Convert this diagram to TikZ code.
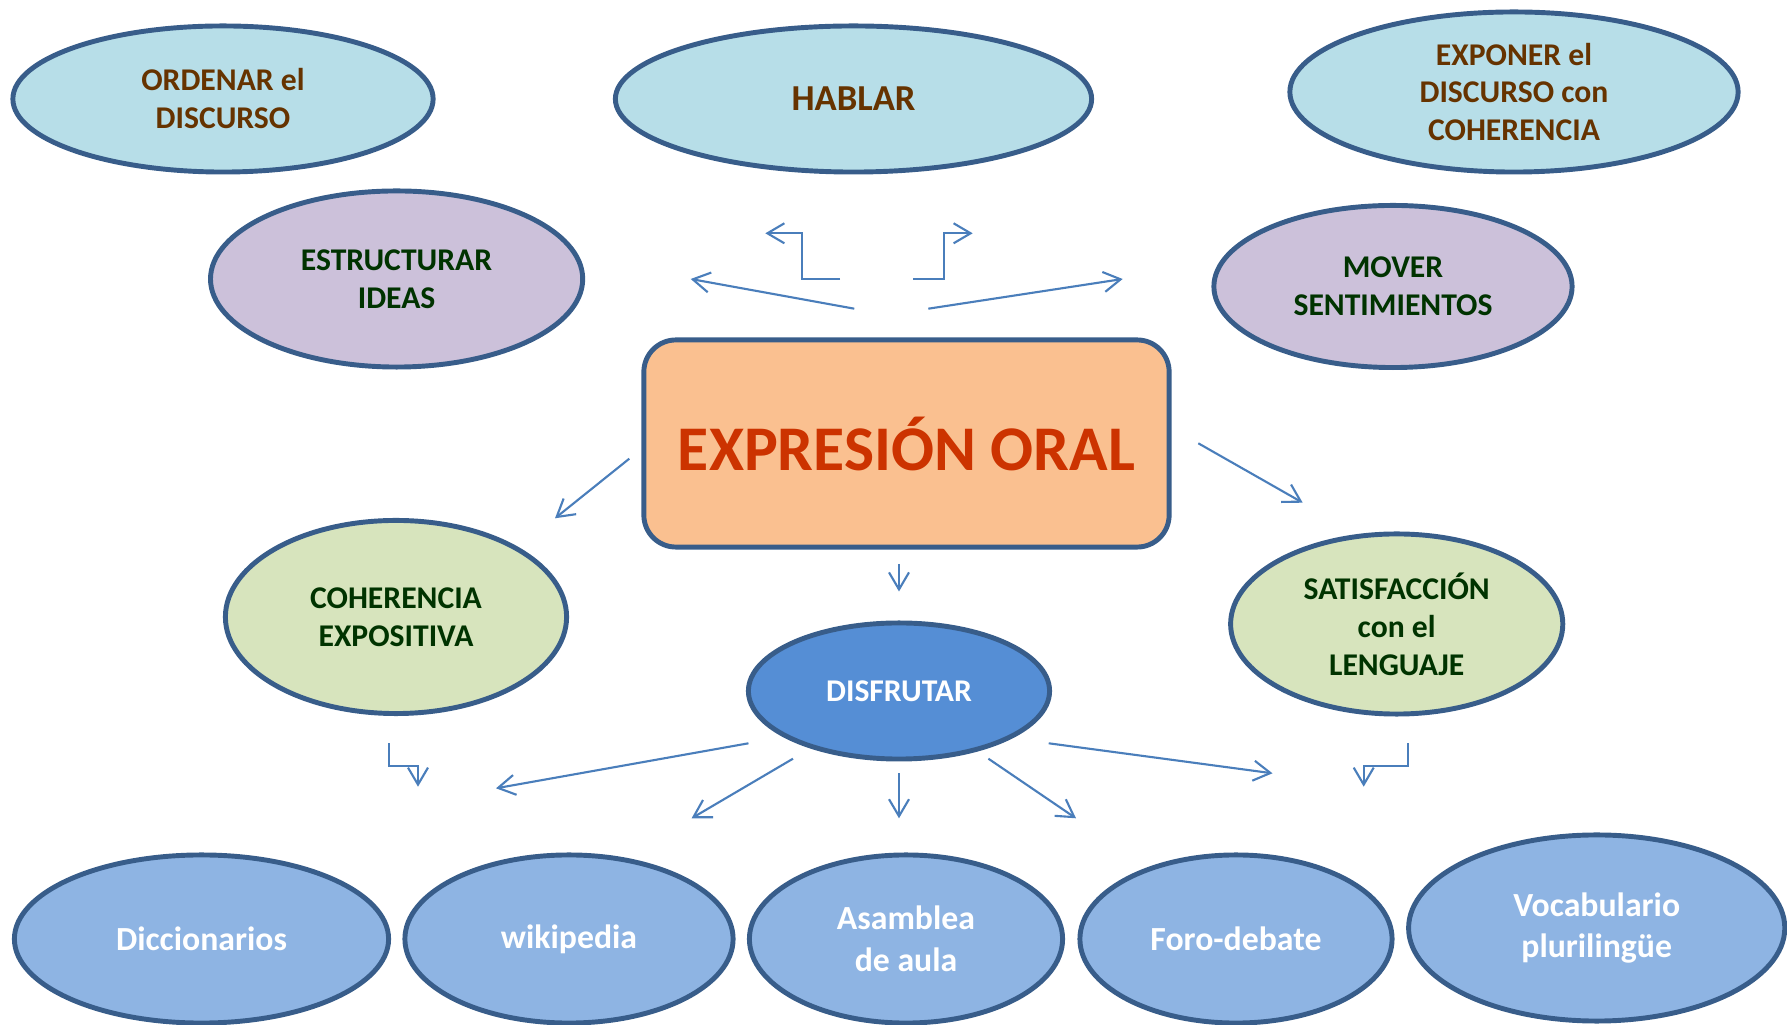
\documentclass[tikz,border=0pt]{standalone}
\usepackage{fontspec}
\setmainfont{Carlito}
\usepackage{tikz}
\usetikzlibrary{arrows.meta,shapes.geometric}

\definecolor{borde}{HTML}{385D8A}
\definecolor{fcel}{HTML}{B7DEE8}
\definecolor{flila}{HTML}{CCC1DA}
\definecolor{fpist}{HTML}{D7E4BD}
\definecolor{fnaranja}{HTML}{FAC090}
\definecolor{fdisf}{HTML}{558ED5}
\definecolor{frecurso}{HTML}{8EB4E3}
\definecolor{marron}{HTML}{663300}
\definecolor{verdeosc}{HTML}{003300}
\definecolor{rojoteja}{HTML}{CC3300}
\definecolor{azulflecha}{HTML}{4A7EBB}

\begin{document}
\begin{tikzpicture}[x=0.01cm,y=-0.01cm,
    globo/.style={ellipse,draw=borde,line width=1.4pt,inner sep=0pt,align=center,
        font=\fontsize{9}{10.8}\selectfont\bfseries},
    celeste/.style={globo,fill=fcel,text=marron},
    lila/.style={globo,fill=flila,text=verdeosc},
    pistacho/.style={globo,fill=fpist,text=verdeosc},
    recurso/.style={globo,fill=frecurso,text=white,minimum height=1.68cm,
        font=\fontsize{9.6}{11.8}\selectfont\bfseries},
    flecha/.style={draw=azulflecha,line width=0.6pt,
        -{Straight Barb[length=0.17cm,width=0.2cm]}}
    ]
    \useasboundingbox (0,0) rectangle (1787,1025);

    % Top row
    \node[celeste,minimum width=4.2cm,minimum height=1.46cm] (ordenar) at (223,99) {ORDENAR el\\DISCURSO};
    \node[celeste,minimum width=4.76cm,minimum height=1.46cm,font=\fontsize{10.4}{12}\selectfont\bfseries] (hablar) at (853.5,99) {HABLAR};
    \node[celeste,minimum width=4.48cm,minimum height=1.6cm] (exponer) at (1514,92) {EXPONER el\\DISCURSO con\\COHERENCIA};
    \node[lila,minimum width=3.72cm,minimum height=1.76cm] (estructurar) at (396.6,279) {ESTRUCTURAR\\IDEAS};
    \node[lila,minimum width=3.58cm,minimum height=1.62cm] (mover) at (1393,286.5) {MOVER\\SENTIMIENTOS};

    % Centre
    \node[rectangle,rounded corners=0.32cm,draw=borde,line width=1.4pt,fill=fnaranja,
        minimum width=5.25cm,minimum height=2.07cm,text=rojoteja,
        font=\fontsize{18.1}{20}\selectfont\bfseries] (oral) at (906.5,443.5) {EXPRESIÓN ORAL};
    \node[pistacho,minimum width=3.41cm,minimum height=1.93cm] (coherencia) at (396,617) {COHERENCIA\\EXPOSITIVA};
    \node[pistacho,minimum width=3.32cm,minimum height=1.8cm] (satisfaccion) at (1396.7,624) {SATISFACCIÓN\\con el\\LENGUAJE};
    \node[globo,fill=fdisf,text=white,minimum width=3.01cm,minimum height=1.36cm] (disfrutar) at (899,691) {DISFRUTAR};

    % Bottom row
    \node[recurso,minimum width=3.74cm] (diccionarios) at (201.5,939) {Diccionarios};
    \node[recurso,minimum width=3.28cm] (wikipedia) at (569,939) {wikipedia};
    \node[recurso,minimum width=3.13cm] (asamblea) at (906,939) {Asamblea\\de aula};
    \node[recurso,minimum width=3.12cm] (foro) at (1236,939) {Foro-debate};
    \node[recurso,minimum width=3.76cm,minimum height=1.86cm] (vocabulario) at (1596.7,928) {Vocabulario\\plurilingüe};

    % arrow ends round HABLAR
    \coordinate (hi1) at (840,279);
    \coordinate (hi2) at (765.3,233.3);
    \coordinate (hd1) at (913.3,279);
    \coordinate (hd2) at (972.7,233.3);
    \coordinate (hl1) at (854.3,308.7);
    \coordinate (hl2) at (690.7,279);
    \coordinate (hr1) at (928.3,308.7);
    \coordinate (hr2) at (1122.7,279);
    \draw[flecha] (hi1) -| (801.7,233.3) -- (hi2);
    \draw[flecha] (hd1) -| (943.7,233.3) -- (hd2);
    \draw[flecha] (hl1) -- (hl2);
    \draw[flecha] (hr1) -- (hr2);

    % arrow ends round the box
    \coordinate (ol1) at (629.3,458.7);
    \coordinate (ol2) at (555,518.3);
    \coordinate (or1) at (1198.3,443.3);
    \coordinate (or2) at (1302.7,502.7);
    \coordinate (od1) at (899,564);
    \coordinate (od2) at (899,591.5);
    \draw[flecha] (ol1) -- (ol2);
    \draw[flecha] (or1) -- (or2);
    \draw[flecha] (od1) -- (od2);

    % arrow ends round DISFRUTAR
    \coordinate (ci1) at (388.6,743.3);
    \coordinate (ci2) at (418,786.7);
    \coordinate (d11) at (748.5,743.3);
    \coordinate (d12) at (496,788.3);
    \coordinate (d21) at (793,758.7);
    \coordinate (d22) at (691.6,818.3);
    \coordinate (d31) at (899,773.3);
    \coordinate (d32) at (899,818.3);
    \coordinate (d41) at (988.4,758.7);
    \coordinate (d42) at (1076,818.3);
    \coordinate (d51) at (1048.7,743.3);
    \coordinate (d52) at (1272.5,773.3);
    \coordinate (sd1) at (1408,743.3);
    \coordinate (sd2) at (1363.7,786.7);
    \draw[flecha] (ci1) |- (418,765.7) -- (ci2);
    \draw[flecha] (d11) -- (d12);
    \draw[flecha] (d21) -- (d22);
    \draw[flecha] (d31) -- (d32);
    \draw[flecha] (d41) -- (d42);
    \draw[flecha] (d51) -- (d52);
    \draw[flecha] (sd1) |- (1363.7,765.7) -- (sd2);
\end{tikzpicture}
\end{document}
